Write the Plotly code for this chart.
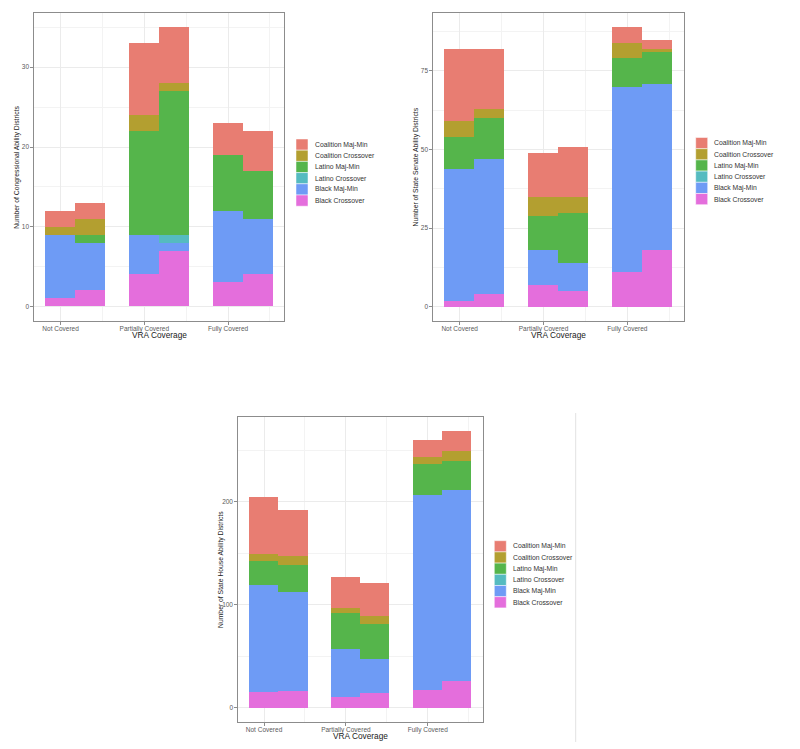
import plotly.graph_objects as go

W, H = 800, 749

categories = ["Not Covered", "Partially Covered", "Fully Covered"]
series_names = ["Black Crossover", "Black Maj-Min", "Latino Crossover",
                "Latino Maj-Min", "Coalition Crossover", "Coalition Maj-Min"]
series_colors = ["#E46EDC", "#6E9BF5", "#55BBC0", "#55B54B", "#B39F30", "#E87D72"]

# each list: [Not Covered a, Not Covered b, Partially a, Partially b, Fully a, Fully b]
cong_black_crossover = [1, 2, 4, 7, 3, 4]
cong_black_majmin = [8, 6, 5, 1, 9, 7]
cong_latino_crossover = [0, 0, 0, 1, 0, 0]
cong_latino_majmin = [0, 1, 13, 18, 7, 6]
cong_coalition_crossover = [1, 2, 2, 1, 0, 0]
cong_coalition_majmin = [2, 2, 9, 7, 4, 5]

senate_black_crossover = [2, 4, 7, 5, 11, 18]
senate_black_majmin = [42, 43, 11, 9, 59, 53]
senate_latino_crossover = [0, 0, 0, 0, 0, 0]
senate_latino_majmin = [10, 13, 11, 16, 9, 10]
senate_coalition_crossover = [5, 3, 6, 5, 5, 1]
senate_coalition_majmin = [23, 19, 14, 16, 5, 3]

house_black_crossover = [16, 17, 11, 15, 18, 26]
house_black_majmin = [103, 96, 46, 33, 189, 186]
house_latino_crossover = [0, 0, 0, 0, 0, 0]
house_latino_majmin = [24, 26, 35, 34, 30, 28]
house_coalition_crossover = [7, 9, 5, 7, 7, 9]
house_coalition_majmin = [55, 44, 30, 32, 16, 20]

y_titles = ["Number of Congressional Ability Districts",
            "Number of State Senate Ability Districts",
            "Number of State House Ability Districts"]
x_title = "VRA Coverage"

panels_data = [
    [cong_black_crossover, cong_black_majmin, cong_latino_crossover,
     cong_latino_majmin, cong_coalition_crossover, cong_coalition_majmin],
    [senate_black_crossover, senate_black_majmin, senate_latino_crossover,
     senate_latino_majmin, senate_coalition_crossover, senate_coalition_majmin],
    [house_black_crossover, house_black_majmin, house_latino_crossover,
     house_latino_majmin, house_coalition_crossover, house_coalition_majmin],
]
y_dticks = [10, 25, 100]

# panel pixel boxes: left, right, top, bottom
boxes = [(34.3, 284.3, 13.3, 320.7), (433.3, 683.7, 12.7, 320.7), (238.3, 482.7, 416.7, 721.7)]
legend_pos = [(296, 312.7, 139), (695.7, 712, 137.5), (494.3, 510.7, 540.7)]

def px(x):
    return x / W

def py(y):
    return 1 - y / H

BW = 0.357
xpos = []
for i in range(len(categories)):
    xpos += [i + 1, i + 1 + BW]

fig = go.Figure()
FONT = "Arial, Liberation Sans, sans-serif"
annotations = []
shapes = []

for p, data in enumerate(panels_data):
    ax = "" if p == 0 else str(p + 1)
    for s, vals in enumerate(data):
        fig.add_trace(go.Bar(
            x=xpos, y=vals, width=BW, name=series_names[s],
            marker=dict(color=series_colors[s], line=dict(width=0)),
            xaxis="x" + ax, yaxis="y" + ax, showlegend=False,
        ))
    totals = [sum(v[k] for v in data) for k in range(len(xpos))]
    ymax = max(totals)
    l, r, t, b = boxes[p]
    xlo = 1 - BW / 2
    xhi = len(categories) + BW + BW / 2
    xr = [xlo - 0.05 * (xhi - xlo), xhi + 0.05 * (xhi - xlo)]
    yr = [-0.05 * ymax, ymax * 1.05]
    fig.update_layout(**{
        "xaxis" + ax: dict(
            domain=[px(l), px(r)], range=xr, anchor="y" + ax,
            tickmode="array", tickvals=[1, 2, 3], ticktext=categories,
            showgrid=True, gridcolor="#EBEBEB", gridwidth=0.8,
            minor=dict(tickmode="array", tickvals=[1.5, 2.5, 3.5], showgrid=True,
                       gridcolor="#F3F3F3", gridwidth=0.5),
            showline=True, linecolor="#8C8C8C", linewidth=1, mirror=True,
            ticks="outside", ticklen=3, tickcolor="#8C8C8C", tickwidth=0.8,
            ticklabelstandoff=-2,
            tickfont=dict(family=FONT, size=6.5, color="#5A5A5A"),
            zeroline=False, fixedrange=True,
        ),
        "yaxis" + ax: dict(
            domain=[py(b), py(t)], range=yr, anchor="x" + ax,
            tickmode="linear", tick0=0, dtick=y_dticks[p],
            showgrid=True, gridcolor="#EBEBEB", gridwidth=0.8,
            minor=dict(tick0=0, dtick=y_dticks[p] / 2, showgrid=True,
                       gridcolor="#F3F3F3", gridwidth=0.5),
            showline=True, linecolor="#8C8C8C", linewidth=1, mirror=True,
            ticks="outside", ticklen=3, tickcolor="#8C8C8C", tickwidth=0.8,
            tickfont=dict(family=FONT, size=6.5, color="#5A5A5A"),
            zeroline=False, fixedrange=True,
        ),
    })
    # axis titles
    annotations.append(dict(
        x=px((l + r) / 2), y=py(b + 14), xref="paper", yref="paper",
        text=x_title, showarrow=False, xanchor="center", yanchor="middle",
        font=dict(family=FONT, size=8.3, color="#1A1A1A")))
    annotations.append(dict(
        x=px(l - 17.5), y=py((t + b) / 2), xref="paper", yref="paper",
        text=y_titles[p], showarrow=False, textangle=-90,
        xanchor="center", yanchor="middle",
        font=dict(family=FONT, size=6.8, color="#1A1A1A")))
    # legend
    kx, tx, ky = legend_pos[p]
    kh = 11.2
    for i, s in enumerate(reversed(range(len(series_names)))):
        y0 = ky + i * kh
        shapes.append(dict(
            type="rect", xref="paper", yref="paper",
            x0=px(kx), x1=px(kx + 12), y0=py(y0 + kh), y1=py(y0),
            fillcolor=series_colors[s], line=dict(color="white", width=0.5)))
        annotations.append(dict(
            x=px(tx), y=py(y0 + kh / 2), xref="paper", yref="paper",
            text=series_names[s], showarrow=False, xanchor="left", yanchor="middle",
            font=dict(family=FONT, size=6.8, color="#333333")))

# separator line at right of bottom panel
shapes.append(dict(type="line", xref="paper", yref="paper",
                   x0=px(575.7), x1=px(575.7), y0=py(742), y1=py(413),
                   line=dict(color="#E2E2E2", width=1)))

fig.update_layout(
    width=W, height=H, autosize=False,
    margin=dict(l=0, r=0, t=0, b=0),
    paper_bgcolor="white", plot_bgcolor="white",
    barmode="stack", bargap=0,
    showlegend=False,
    annotations=annotations, shapes=shapes,
    font=dict(family=FONT),
)

fig.write_html("out.html", config={"displayModeBar": False},
               post_script="document.body.style.margin='0';document.body.style.overflow='hidden';")
